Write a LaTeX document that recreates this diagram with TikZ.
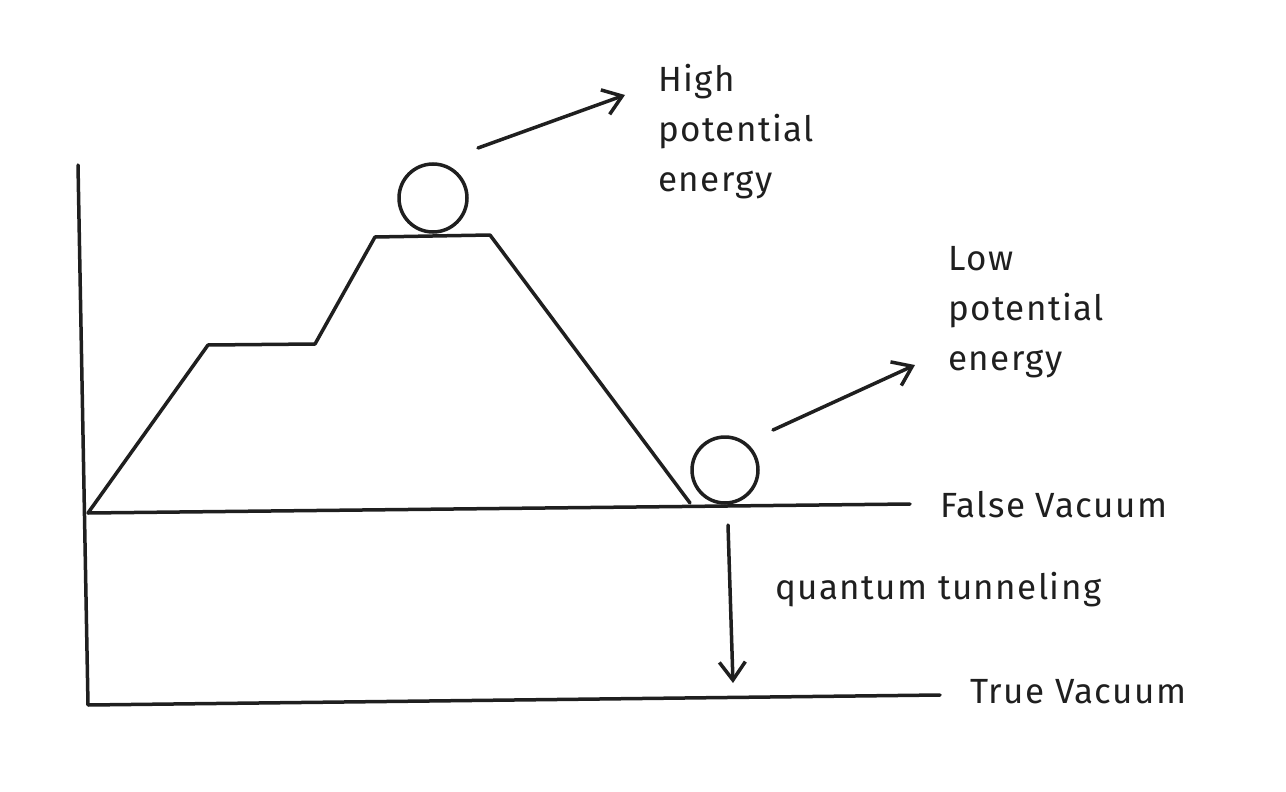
\documentclass[tikz,border=0pt]{standalone}
\usepackage{fontspec}
\setmainfont{Fira Sans}[LetterSpace=4]
\usetikzlibrary{arrows.meta}
\begin{document}
\begin{tikzpicture}[x=1pt,y=-1pt,
  ln/.style={line width=3.5pt,line cap=round,line join=round,black!88},
  arr/.style={ln,-{Straight Barb[length=18pt,width=26pt,line width=3.5pt]}},
  lbl/.style={font=\fontsize{35}{50}\selectfont,anchor=west,align=left,inner sep=0pt,text=black!88}]
\useasboundingbox (0,0) rectangle (1286,792);
\coordinate (axT) at (78,165);
\coordinate (axB) at (88,705);
\coordinate (fvL) at (88,513);
\coordinate (fvR) at (910,504);
\coordinate (tvR) at (940,695);
\coordinate (m1) at (208,345);
\coordinate (m2) at (315,344);
\coordinate (m3) at (375,237);
\coordinate (m4) at (490,235);
\coordinate (m5) at (690,503);
\draw[ln] (axT) -- (axB) -- (tvR);
\draw[ln] (fvL) -- (fvR);
\draw[ln] (fvL) -- (m1) -- (m2) -- (m3) -- (m4) -- (m5);
\node[circle,draw,line width=3.5pt,black!88,minimum size=68pt,inner sep=0pt] (b1) at (433,198) {};
\node[circle,draw,line width=3.5pt,black!88,minimum size=66pt,inner sep=0pt] (b2) at (725,470) {};
\node[lbl] (hi) at (658,132) {High\\potential\\energy};
\node[lbl] (lo) at (948,312) {Low\\potential\\energy};
\node[lbl] (fv) at (940,505) {False Vacuum};
\node[lbl] (tv) at (970,692) {True Vacuum};
\node[lbl] (qt) at (775,590) {quantum tunneling};
\coordinate (a1s) at (478,148); \coordinate (a1e) at (625,95);
\coordinate (a2s) at (773,430); \coordinate (a2e) at (915,365);
\coordinate (a3s) at (728,525); \coordinate (a3e) at (733,683);
\draw[arr] (a1s) -- (a1e);
\draw[arr] (a2s) -- (a2e);
\draw[arr] (a3s) -- (a3e);
\end{tikzpicture}
\end{document}
